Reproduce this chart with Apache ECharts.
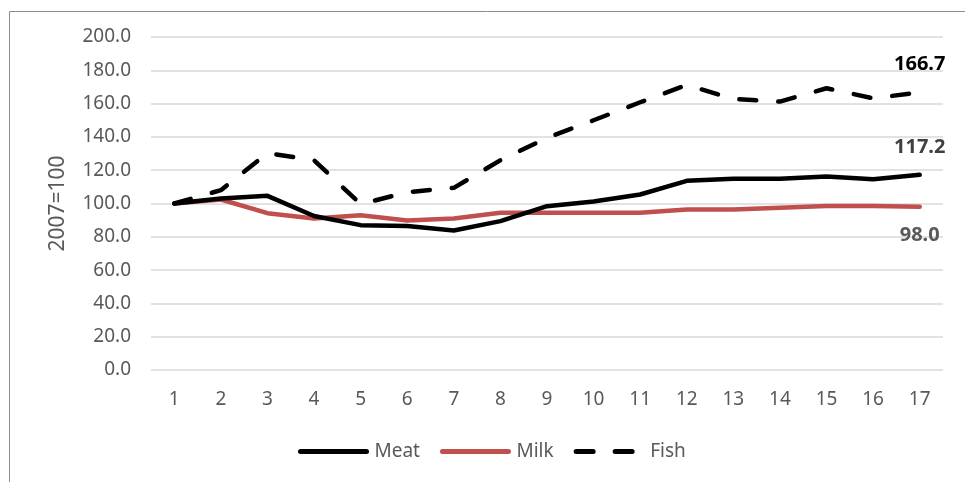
<!DOCTYPE html>
<html>
<head>
<meta charset="utf-8">
<title>Meat, milk and fish index</title>
<script src="https://cdn.jsdelivr.net/npm/echarts@6/dist/echarts.min.js"></script>
<style>
  html, body { margin: 0; padding: 0; background: #ffffff; }
  #chart { width: 965px; height: 482px; }
</style>
</head>
<body>
<div id="chart"></div>
<script>
// Categories along the x axis
const categories = ['1', '2', '3', '4', '5', '6', '7', '8', '9', '10', '11', '12', '13', '14', '15', '16', '17'];

// Index values, 2007 = 100
const meat = [100, 103, 104.6, 92.5, 87, 86.5, 83.8, 89.4, 98.4, 101.2, 105.4, 113.6, 114.8, 114.8, 116.2, 114.6, 117.2];
const milk = [100, 102.4, 94.2, 91, 93, 89.8, 91, 94.4, 94.4, 94.4, 94.4, 96.4, 96.4, 97.5, 98.5, 98.5, 98.0];
const fish = [100, 108, 130.3, 126, 99.6, 106.8, 109.4, 126, 139.4, 150, 160.8, 171.2, 162.8, 161.2, 169.2, 163.2, 166.7];

const FONT = '"Noto Sans", sans-serif';

// Show a bold value label on the final point of a series only
function withEndLabel(values, color, position) {
  return values.map((v, i) => i === values.length - 1
    ? { value: v, symbol: 'circle', symbolSize: 0, label: {
        show: true, position: position, distance: 18,
        formatter: (p) => p.value.toFixed(1),
        fontFamily: FONT, fontSize: 20, fontWeight: 'bold', color: color
      } }
    : v);
}

const chart = echarts.init(document.getElementById('chart'), null, { renderer: 'canvas' });

chart.setOption({
  backgroundColor: '#ffffff',
  animation: false,
  graphic: [{
    type: 'rect',
    shape: { x: 9.5, y: 11.5, width: 1200, height: 1200 },
    style: { fill: 'none', stroke: '#8c8c8c', lineWidth: 1 },
    z: -1
  }],
  grid: { left: 151, right: 22, top: 37, bottom: 112 },
  legend: {
    left: 293, top: 437,
    itemWidth: 66, itemHeight: 14, itemGap: 20,
    itemStyle: { opacity: 0 },
    lineStyle: { width: 5, cap: 'round' },
    textStyle: { fontFamily: FONT, fontSize: 19, color: '#595959', padding: [0, 0, 0, 3] },
    data: ['Meat', 'Milk', 'Fish']
  },
  xAxis: {
    type: 'category',
    data: categories,
    boundaryGap: true,
    axisLine: { show: false },
    axisTick: { show: false },
    axisLabel: { fontFamily: FONT, fontSize: 19, color: '#595959', margin: 20 }
  },
  yAxis: {
    type: 'value',
    min: 0, max: 200, interval: 20,
    name: '2007=100',
    nameLocation: 'middle',
    nameRotate: 90,
    nameGap: 82,
    nameTextStyle: { fontFamily: FONT, fontSize: 21, color: '#595959' },
    axisLine: { show: false },
    axisTick: { show: false },
    splitLine: { lineStyle: { color: '#d9d9d9', width: 1.5 } },
    axisLabel: {
      fontFamily: FONT, fontSize: 19, color: '#595959', margin: 20,
      formatter: (v) => v.toFixed(1)
    }
  },
  series: [
    {
      name: 'Meat', type: 'line', symbol: 'none',
      data: withEndLabel(meat, '#404040', 'top'),
      lineStyle: { color: '#000000', width: 4.5, cap: 'round', join: 'round' },
      itemStyle: { color: '#000000' },
      z: 3
    },
    {
      name: 'Milk', type: 'line', symbol: 'none',
      data: withEndLabel(milk, '#595959', 'bottom'),
      lineStyle: { color: '#c0504d', width: 4.5, cap: 'round', join: 'round' },
      itemStyle: { color: '#c0504d' },
      z: 2
    },
    {
      name: 'Fish', type: 'line', symbol: 'none',
      data: withEndLabel(fish, '#000000', 'top'),
      lineStyle: { color: '#000000', width: 4.5, type: [17, 22], cap: 'round', join: 'round' },
      itemStyle: { color: '#000000' },
      z: 4
    }
  ]
});
</script>
</body>
</html>
